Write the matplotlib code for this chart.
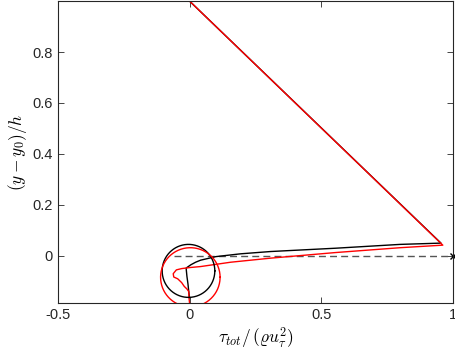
import numpy as np
import matplotlib
matplotlib.use("Agg")
import matplotlib.pyplot as plt

plt.rcParams['font.family'] = ['Liberation Sans', 'DejaVu Sans']
plt.rcParams['mathtext.fontset'] = 'cm'

# Black profile
black_x = [0.0, 0.955, 0.80, 0.555, 0.308, 0.194, 0.10, 0.042, 0.023, 0.005, -0.013, -0.010, -0.006, -0.003, 0.0]
black_y = [1.0, 0.050, 0.045, 0.030, 0.017, 0.008, -0.003, -0.017, -0.025, -0.035, -0.048, -0.080, -0.110, -0.140, -0.165]

# Red profile
red_x = [0.0, 0.962, 0.80, 0.555, 0.308, 0.156, 0.042, 0.0, -0.03, -0.05, -0.062, -0.060, -0.045, -0.030, -0.020, -0.010, -0.003, -0.002, 0.0]
red_y = [1.0, 0.042, 0.032, 0.013, -0.009, -0.025, -0.042, -0.046, -0.050, -0.055, -0.070, -0.083, -0.090, -0.105, -0.120, -0.130, -0.140, -0.165, -0.185]

# Reference line and marker
ref_x = [-0.06, 1.0]
ref_y = [0.0, 0.0]
marker_x = [1.0]
marker_y = [0.0]

# Highlight circles: center x, center y, radius x, radius y
black_circle = [-0.004, -0.059, 0.100, 0.104]
red_circle = [0.003, -0.084, 0.113, 0.116]

xticks = [-0.5, 0, 0.5, 1]
xticklabels = ['-0.5', '0', '0.5', '1']
yticks = [0, 0.2, 0.4, 0.6, 0.8]
yticklabels = ['0', '0.2', '0.4', '0.6', '0.8']

fig = plt.figure(figsize=(4.56, 3.55), dpi=100)
ax = fig.add_axes([0.127, 0.1465, 0.866, 0.8505])

ax.plot(ref_x, ref_y, '--', color='#555555', lw=1.0, dashes=(5, 3))
ax.plot(black_x, black_y, color='black', lw=1.0)
ax.plot(red_x, red_y, color='red', lw=1.0)
ax.plot(marker_x, marker_y, 'x', color='black', ms=5, mew=1.0, clip_on=False)

t = np.linspace(0, 2 * np.pi, 200)
for c, col in [(black_circle, 'black'), (red_circle, 'red')]:
    ax.plot(c[0] + c[2] * np.cos(t), c[1] + c[3] * np.sin(t), color=col, lw=1.0)

ax.set_xlim(-0.5, 1.0)
ax.set_ylim(-0.185, 1.0)
ax.set_xticks(xticks)
ax.set_xticklabels(xticklabels)
ax.set_yticks(yticks)
ax.set_yticklabels(yticklabels)
ax.tick_params(direction='in', top=True, right=True, length=4, width=0.6,
               labelsize=10.5, colors='#262626')
for s in ax.spines.values():
    s.set_color('#262626')
    s.set_linewidth(0.8)

ax.set_xlabel(r'$\tau_{tot}/\,(\varrho u_\tau^2)$', fontsize=12.5, labelpad=3)
ax.set_ylabel(r'$(y-y_0)/h$', fontsize=12.5, labelpad=3)

fig.savefig('out.png', dpi=100)
